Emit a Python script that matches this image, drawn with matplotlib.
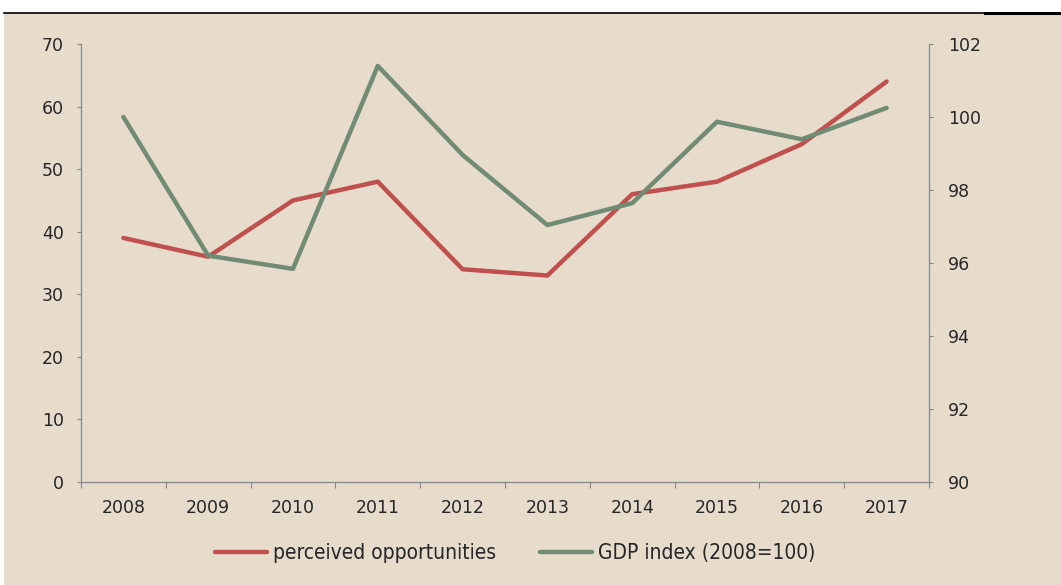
import matplotlib
matplotlib.use("Agg")
import matplotlib.pyplot as plt
from matplotlib.lines import Line2D
from matplotlib.patches import Rectangle
from matplotlib.font_manager import FontProperties

years = ["2008", "2009", "2010", "2011", "2012", "2013", "2014", "2015", "2016", "2017"]
perceived = [39, 36, 45, 48, 34, 33, 46, 48, 54, 64]
gdp_index = [100.0, 96.2, 95.84, 101.4, 98.96, 97.04, 97.64, 99.87, 99.39, 100.25]
left_ticks = [0, 10, 20, 30, 40, 50, 60, 70]
right_ticks = [90, 92, 94, 96, 98, 100, 102]

BG = "#E7DCCB"
RED = "#C0504D"
GREEN = "#718B74"
AX = "#868686"
TXT = "#262626"

plt.rcParams['font.family'] = ['DejaVu Sans']
plt.rcParams['font.stretch'] = 'normal'

W, H = 1061, 585
fig = plt.figure(figsize=(W / 100, H / 100), dpi=100)
fig.patch.set_facecolor("white")

# beige panel
fig.patches.append(Rectangle((4 / W, 0), 1 - 4 / W, 1 - 13 / H, transform=fig.transFigure,
                             facecolor=BG, edgecolor="none", zorder=-10))
# top black rule
fig.lines.append(Line2D([4 / W, 1000 / W], [1 - 12.5 / H, 1 - 12.5 / H], transform=fig.transFigure,
                        color="black", lw=1.2, zorder=-5))
fig.lines.append(Line2D([985 / W, 1.0], [1 - 13 / H, 1 - 13 / H], transform=fig.transFigure,
                        color="black", lw=2.2, zorder=-5))

left, right, top, bottom = 81 / W, 929 / W, 1 - 44 / H, 1 - 482 / H
ax = fig.add_axes([left, bottom, right - left, top - bottom])
ax.set_facecolor("none")
ax2 = ax.twinx()
ax2.set_facecolor("none")

x = list(range(len(years)))
l1, = ax.plot(x, perceived, color=RED, lw=3.2, solid_capstyle="round", solid_joinstyle="round",
              label="perceived opportunities", zorder=3)
l2, = ax2.plot(x, gdp_index, color=GREEN, lw=3.2, solid_capstyle="round", solid_joinstyle="round",
               label="GDP index (2008=100)", zorder=3)

ax.set_xlim(-0.5, len(years) - 0.5)
ax.set_ylim(0, 70)
ax2.set_ylim(90, 102)
ax.set_yticks(left_ticks)
ax2.set_yticks(right_ticks)

ax.set_xticks([i - 0.5 for i in range(len(years) + 1)])
ax.set_xticklabels([])
ax.set_xticks(x, minor=True)
ax.set_xticklabels(years, minor=True)
ax.tick_params(axis="x", which="major", length=4, color=AX, direction="out", width=0.8)
ax.tick_params(axis="x", which="minor", length=0, pad=12.5, labelsize=12.5, labelcolor=TXT)
ax.tick_params(axis="y", length=3, color=AX, width=0.8, labelsize=12.5, labelcolor=TXT, pad=9.5)
ax2.tick_params(axis="y", length=3, color=AX, width=0.8, labelsize=12.5, labelcolor=TXT, pad=10.5)

for a in (ax, ax2):
    a.spines["top"].set_visible(False)
    for s in ("left", "right", "bottom"):
        a.spines[s].set_color(AX)
        a.spines[s].set_linewidth(0.9)
ax.spines["right"].set_visible(False)
ax2.spines["left"].set_visible(False)
ax2.spines["bottom"].set_visible(False)

fp = FontProperties(family="DejaVu Sans", stretch="condensed", size=15)
leg = fig.legend(handles=[l1, l2], loc="center", bbox_to_anchor=(515 / W, 1 - 553 / H), ncol=2,
                 frameon=False, prop=fp, handlelength=2.5, handletextpad=0.3, columnspacing=2.1)
for t in leg.get_texts():
    t.set_color(TXT)

fig.savefig("out.png", dpi=100, facecolor=fig.get_facecolor())
